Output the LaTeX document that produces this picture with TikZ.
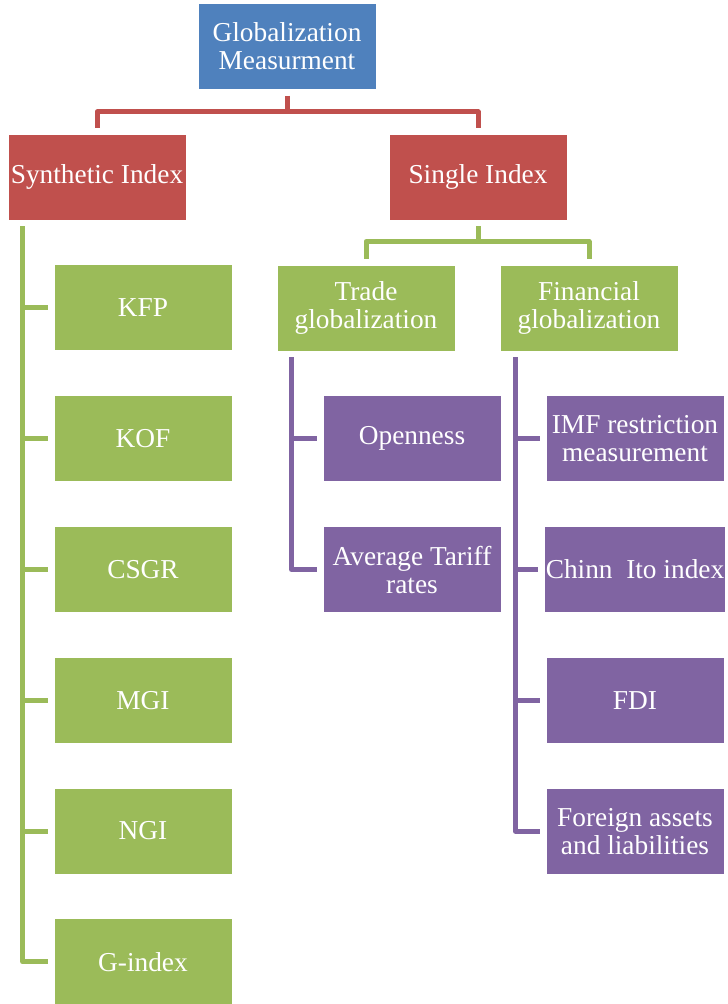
\documentclass[tikz,border=0pt]{standalone}
\usepackage{fontspec}
\setmainfont{Liberation Serif}
\usetikzlibrary{positioning}
\definecolor{gmblue}{HTML}{4F81BD}
\definecolor{gmred}{HTML}{C0504D}
\definecolor{gmgreen}{HTML}{9BBB59}
\definecolor{gmpurple}{HTML}{8064A2}
\begin{document}
\begin{tikzpicture}[x=0.75pt,y=-0.75pt,
	box/.style={rectangle,draw=white,line width=0.6pt,text=white,align=center,
		minimum width=133.5pt,minimum height=64.5pt,inner sep=1pt,
		font=\fontsize{20.5}{21}\selectfont},
	link/.style={line width=3.75pt,line join=round,shorten <=4.5pt,shorten >=4.5pt},
	node distance = 33pt]
	\useasboundingbox (0,0) rectangle (728,1004);
	\node[box,fill=gmblue] (glob) at (287,46.5) {Globalization\\Measurment};
	\node[box,fill=gmred] (synth) at (97,177) {Synthetic Index};
	\node[box,fill=gmred] (single) at (478,177) {Single Index};
	\node[box,fill=gmgreen] (trade) at (366,308) {Trade\\globalization};
	\node[box,fill=gmgreen] (fin) at (589,308) {Financial\\globalization};
	% synthetic indices
	\node[box,fill=gmgreen] (kfp)[below = of synth,xshift=34.5pt]{KFP};
	\node[box,fill=gmgreen] (kof)[below = of kfp]{KOF};
	\node[box,fill=gmgreen] (csgr)[below = of kof]{CSGR};
	\node[box,fill=gmgreen] (mgi)[below = of csgr]{MGI};
	\node[box,fill=gmgreen] (ngi)[below = of mgi]{NGI};
	\node[box,fill=gmgreen] (gidx)[below = of ngi]{G-index};
	% single indices
	\node[box,fill=gmpurple] (open)[below = of trade,xshift=34.5pt]{Openness};
	\node[box,fill=gmpurple] (tariff)[below = of open]{Average Tariff\\rates};
	\node[box,fill=gmpurple] (imf)[below = of fin,xshift=34.5pt]{IMF restriction\\measurement};
	\node[box,fill=gmpurple] (chinn)[below = of imf]{Chinn\ \ Ito index};
	\node[box,fill=gmpurple] (fdi)[below = of chinn]{FDI};
	\node[box,fill=gmpurple] (fal)[below = of fdi]{Foreign assets\\and liabilities};
	\draw[link,gmred] (glob.south) -- ++(0,22) -| (synth.north);
	\draw[link,gmred] (glob.south) -- ++(0,22) -| (single.north);
	\draw[link,gmgreen] (single.south) -- ++(0,21) -| (trade.north);
	\draw[link,gmgreen] (single.south) -- ++(0,21) -| (fin.north);
	\foreach \c in {kfp,kof,csgr,mgi,ngi,gidx}
		\draw[link,gmgreen] ([xshift=11.25pt]synth.south west) |- (\c.west);
	\foreach \c in {open,tariff}
		\draw[link,gmpurple] ([xshift=11.25pt]trade.south west) |- (\c.west);
	\foreach \c in {imf,chinn,fdi,fal}
		\draw[link,gmpurple] ([xshift=12pt]fin.south west) |- (\c.west);
\end{tikzpicture}
\end{document}
